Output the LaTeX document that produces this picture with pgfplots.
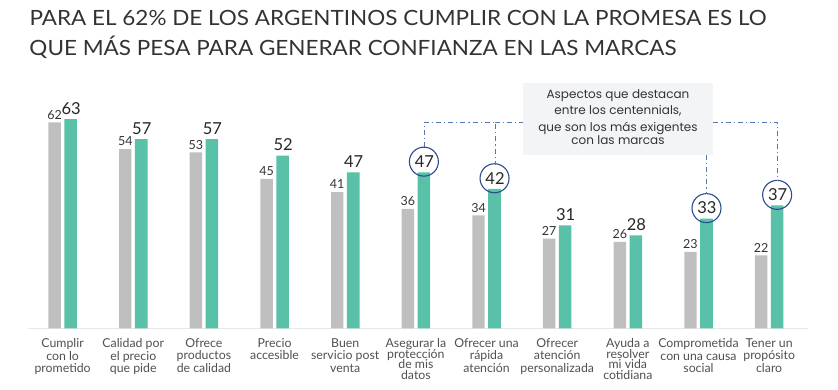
\documentclass[border=0pt]{standalone}
\usepackage{pgfplots}
\pgfplotsset{compat=1.18}
\usepackage{fontspec}
\setmainfont{Lato}
\newfontfamily\boxfont{Poppins}
\definecolor{barGray}{HTML}{BFBFBF}
\definecolor{barTeal}{HTML}{58C1A7}
\definecolor{circBlue}{HTML}{2D4B8C}
\definecolor{lineBlue}{HTML}{5676B0}
\definecolor{titleCol}{HTML}{333333}
\definecolor{tickCol}{HTML}{505050}
\definecolor{boxFill}{HTML}{F3F4F6}
\begin{document}
\begin{tikzpicture}[x=1pt,y=1pt]
\useasboundingbox (0,0) rectangle (838,390);
% title
\node[anchor=base west, inner sep=0, text=titleCol] at (29.3,364)
  {\resizebox{737pt}{\height}{\fontsize{21}{24}\selectfont PARA EL 62\% DE LOS ARGENTINOS CUMPLIR CON LA PROMESA ES LO}};
\node[anchor=base west, inner sep=0, text=titleCol] at (29.3,334)
  {\resizebox{647pt}{\height}{\fontsize{21}{24}\selectfont QUE MÁS PESA PARA GENERAR CONFIANZA EN LAS MARCAS}};
\begin{axis}[
  at={(28pt,61.7pt)}, anchor=south west,
  scale only axis, width=780pt, height=249pt,
  xmin=-0.49, xmax=10.55, ymin=0, ymax=75,
  axis x line=bottom, axis y line=none,
  axis line style={draw=black!9, line width=1pt, -},
  xtick={0,...,10}, major tick length=0pt,
  xticklabels={{Cumplir\\con lo\\prometido},{Calidad por\\el precio\\que pide},{Ofrece\\productos\\de calidad},{Precio\\accesible},{Buen\\servicio post\\venta},{Asegurar la\\[-2pt]protección\\[-2pt]de mis\\[-2pt]datos},{Ofrecer una\\rápida\\atención},{Ofrecer\\atención\\personalizada},{Ayuda a\\[-2pt]resolver\\[-2pt]mi vida\\[-2pt]cotidiana},{Comprometida\\con una causa\\social},{Tener un\\propósito\\claro}},
  xticklabel style={font=\fontsize{12.3}{12.5}\selectfont, align=center, text=tickCol, anchor=north, inner sep=0pt, yshift=-10pt},
  /pgf/number format/assume math mode=true,
  clip=false,
]
\addplot[ybar, bar width=12.4pt, bar shift=-8pt, fill=barGray, draw=none,
  nodes near coords, nodes near coords style={font=\fontsize{12.5}{13}\selectfont, text=titleCol, anchor=south, inner sep=0pt, xshift=-8pt, yshift=3pt}]
  coordinates {(0,62) (1,54) (2,53) (3,45) (4,41) (5,36) (6,34) (7,27) (8,26) (9,23) (10,22)};
\addplot[ybar, bar width=12.6pt, bar shift=8pt, fill=barTeal, draw=none,
  nodes near coords, nodes near coords style={font=\fontsize{16.5}{17}\selectfont, text=black!85, anchor=south, inner sep=0pt, xshift=8.5pt, yshift=4.5pt}]
  coordinates {(0,63) (1,57) (2,57) (3,52) (4,47) (5,47) (6,42) (7,31) (8,28) (9,33) (10,37)};
\addplot[draw=none, mark=none,
  nodes near coords={\vphantom{0}}, nodes near coords style={circle, draw=circBlue, line width=1.1pt, minimum size=29pt, inner sep=0pt, anchor=center, xshift=8pt, yshift=10.6pt}]
  coordinates {(5,47) (6,42) (9,33) (10,37)};
\end{axis}
% annotation lines
\begin{scope}[draw=lineBlue, line width=1pt, dash pattern=on 5pt off 3pt on 1.2pt off 3pt]
\draw (424.2,242.8) -- (424.2,267.7) -- (495,267.7) -- (495,224.5);
\draw (495,267.7) -- (522.7,267.7);
\draw (713.3,267.7) -- (777.3,267.7) -- (777.3,209.6);
\draw (706.7,235) -- (706.7,196.4);
\end{scope}
\fill[boxFill] (522.7,235) rectangle (713.3,306.7);
\node[text width=190pt, align=center, text=titleCol, inner sep=0pt, anchor=north] at (618,300.5)
  {\boxfont\fontsize{12}{16.3}\selectfont Aspectos que destacan\\entre los centennials,\\que son los más exigentes\\con las marcas};
\end{tikzpicture}
\end{document}
